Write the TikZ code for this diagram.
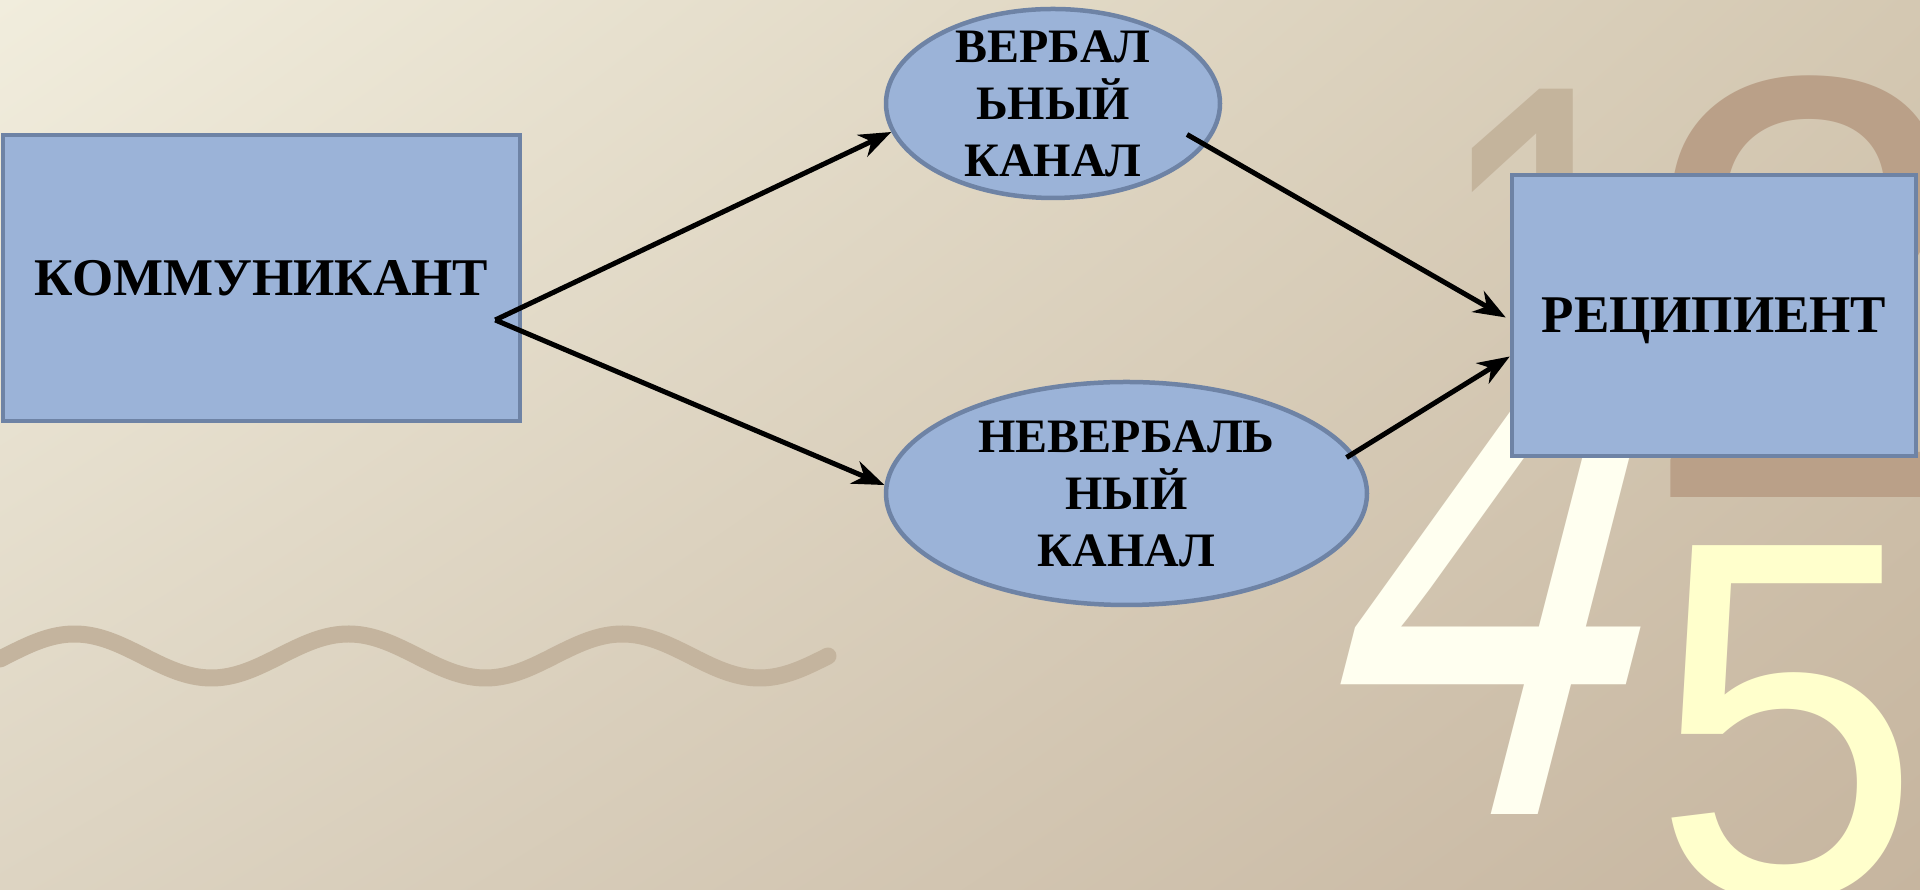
\documentclass[tikz,border=0pt]{standalone}
\usepackage{fontspec}
\setmainfont{Liberation Serif}
\newfontfamily\digitfont{Liberation Sans}
\usetikzlibrary{shapes.geometric, arrows.meta, shadings}
\definecolor{cmBlue}{RGB}{155,179,216}
\definecolor{cmEdge}{RGB}{110,131,165}
\definecolor{cmBgTL}{RGB}{241,237,221}
\definecolor{cmBgTR}{RGB}{212,200,178}
\definecolor{cmBgBL}{RGB}{221,212,194}
\definecolor{cmBgBR}{RGB}{198,181,159}
\definecolor{cmWave}{RGB}{196,180,158}
\definecolor{cmOne}{RGB}{196,180,156}
\definecolor{cmTwo}{RGB}{186,160,136}
\definecolor{cmFour}{RGB}{255,255,240}
\definecolor{cmFive}{RGB}{255,255,204}

\begin{document}
\begin{tikzpicture}[
      x=1pt, y=1pt,
      unit/.style={rectangle, draw=cmEdge, fill=cmBlue, line width=4.5pt, inner sep=0pt, text height=35pt, text depth=0pt, font=\bfseries\fontsize{53}{60}\selectfont},
      chan/.style={ellipse, draw=cmEdge, fill=cmBlue, line width=4.5pt, inner sep=0pt},
      chantext/.style={align=center, inner sep=0pt, font=\bfseries\fontsize{48}{57}\selectfont},
      digit/.style={inner sep=0pt, anchor=base west},
      link/.style={-{Stealth[length=32pt, width=24pt, inset=10pt]}, line width=5pt, black},
      wave/.style={draw=cmWave, line width=17pt, line cap=round}
    ]
      \useasboundingbox (0,0) rectangle (1920,890);
      \clip (0,0) rectangle (1920,890);
      \shade[upper left=cmBgTL, upper right=cmBgTR, lower left=cmBgBL, lower right=cmBgBR] (0,0) rectangle (1920,890);

      % background decoration
      \draw[wave] plot[domain=0:828, samples=160, smooth] (\x, {234+22*sin(1.31387*(\x-6))});
      \begin{scope}
        \clip (1400,600) rectangle (1700,890);
        \node[digit, text=cmOne, xscale=0.78, font=\digitfont\fontsize{531}{560}\selectfont] (one) at (1432,435) {1};
      \end{scope}
      \node[digit, text=cmTwo, font=\digitfont\fontsize{604}{620}\selectfont] (two) at (1640,392) {2};
      \node[digit, text=cmFour, xscale=0.68, xslant=0.378, font=\digitfont\fontsize{833}{860}\selectfont] (four) at (1294,75) {4};
      \node[digit, text=cmFive, xscale=0.95, font=\digitfont\fontsize{510}{540}\selectfont] (five) at (1652,-7) {5};

      % scheme
      \node[unit, minimum width=517pt, minimum height=286pt] (komm) at (261.5,612) {КОММУНИКАНТ};
      \node[unit, minimum width=404pt, minimum height=281pt] (rec) at (1714,574.5) {РЕЦИПИЕНТ};
      \node[chan, minimum width=334pt, minimum height=189pt] (verb) at (1053,786.5) {};
      \node[chan, minimum width=481pt, minimum height=223pt] (nev) at (1126.5,396.5) {};
      \node[chantext] (verbtext) at (verb.center) {ВЕРБАЛ\\ЬНЫЙ\\КАНАЛ};
      \node[chantext] (nevtext) at (nev.center) {НЕВЕРБАЛЬ\\НЫЙ\\КАНАЛ};

      \coordinate (src) at ([xshift=-27pt, yshift=-42pt]komm.east);
      \draw[link] (src) -- (verb.190);
      \draw[link] (src) -- (nev.178);
      \draw[link] ([xshift=134pt, yshift=-31pt]verb.center) -- ([xshift=-4pt, yshift=-2pt]rec.west);
      \draw[link] ([xshift=220pt, yshift=36pt]nev.center) -- ([yshift=-41pt]rec.west);
    \end{tikzpicture}
\end{document}
